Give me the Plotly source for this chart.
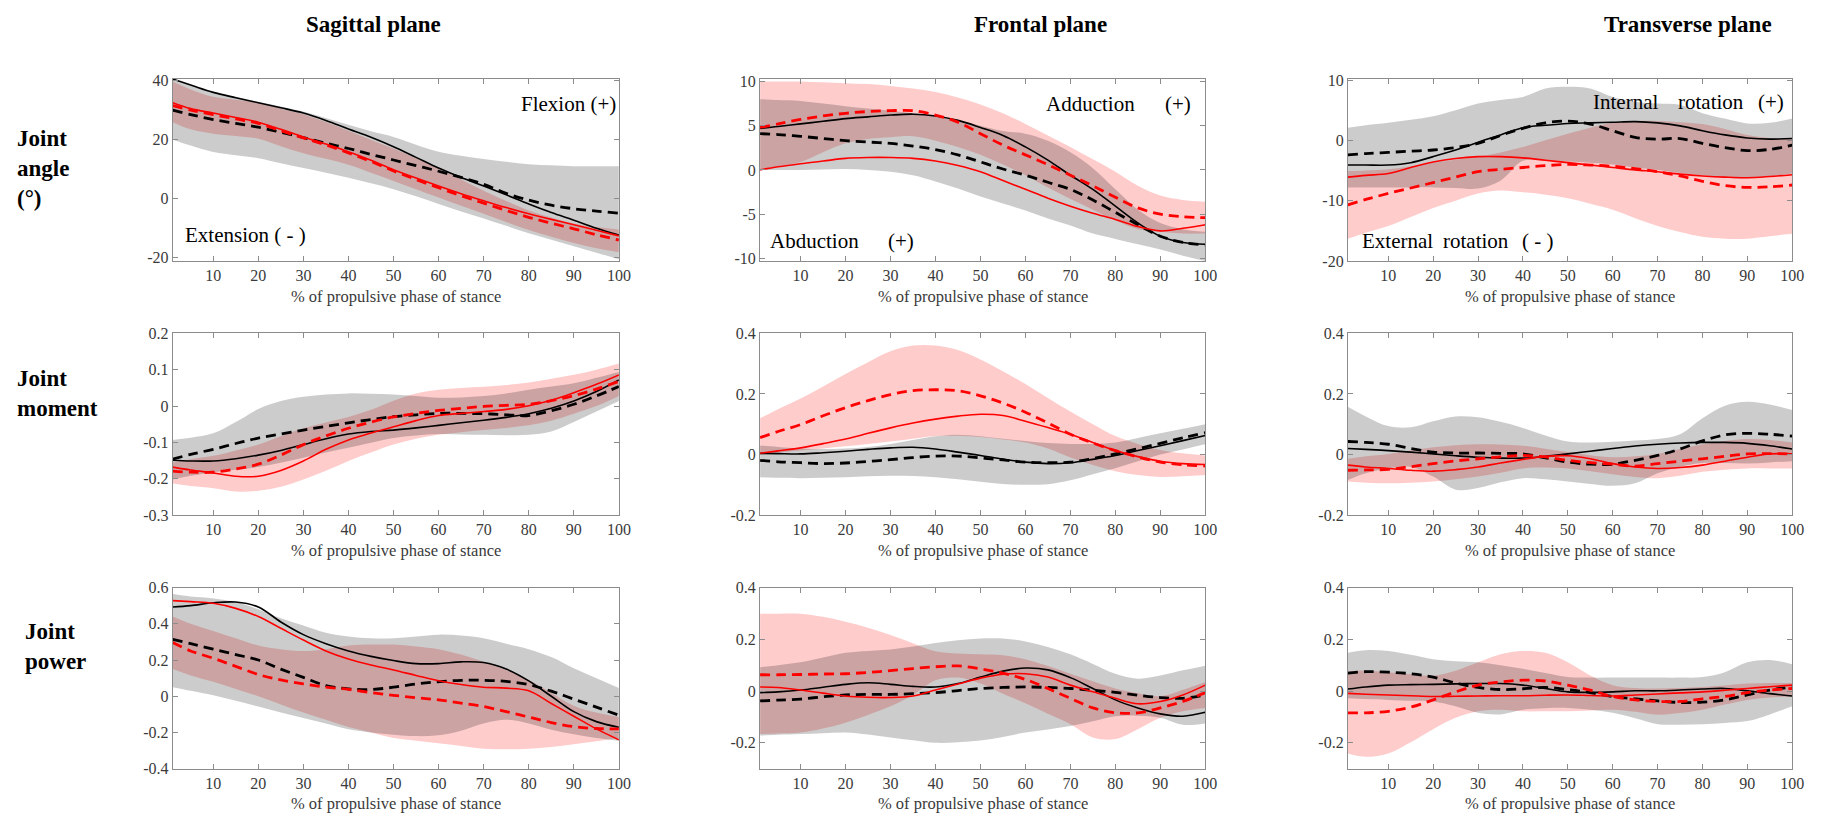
import plotly.graph_objects as go

# Percent of the propulsive phase of stance at which each curve is sampled
x_pct = [1, 5, 10, 15, 20, 25, 30, 35, 40, 45, 50, 55, 60, 65, 70, 75, 80, 85, 90, 95, 100]

# ---------------- Joint angle, sagittal plane ----------------
sag_ang_k = [40.5, 38.5, 36.0, 34.2, 32.5, 30.8, 29.0, 26.5, 23.6, 20.8, 17.6, 14.0, 10.4, 7.2, 4.3, 1.3, -1.8, -4.7, -7.3, -10.0, -12.3]
sag_ang_kd = [30.0, 28.5, 26.8, 25.5, 24.2, 22.5, 20.7, 18.8, 17.0, 15.0, 13.1, 11.2, 9.3, 7.2, 4.9, 1.8, -0.5, -2.2, -3.4, -4.2, -4.9]
sag_ang_r = [32.5, 30.5, 29.0, 27.5, 25.9, 23.5, 20.9, 18.5, 15.9, 13.0, 9.8, 7.0, 4.3, 1.7, -0.7, -3.0, -5.1, -7.0, -8.8, -10.7, -12.6]
sag_ang_rd = [31.5, 30.0, 28.5, 27.0, 25.5, 23.0, 20.6, 18.2, 15.5, 12.6, 9.4, 6.5, 3.7, 1.0, -1.5, -4.0, -6.3, -8.3, -10.2, -12.2, -14.0]
sag_ang_k_hi = [40.5, 38.5, 36.2, 34.5, 32.8, 31.2, 29.5, 27.3, 25.0, 22.8, 20.9, 18.3, 15.9, 14.5, 13.4, 12.5, 11.7, 11.3, 11.0, 11.0, 11.0]
sag_ang_k_lo = [20.0, 18.0, 15.8, 14.7, 13.7, 12.0, 10.4, 8.8, 7.1, 5.2, 3.2, 0.8, -1.8, -4.3, -6.7, -9.2, -11.7, -13.9, -16.1, -18.3, -20.5]
sag_ang_r_hi = [39.7, 37.0, 34.5, 33.5, 32.5, 30.5, 28.6, 26.0, 23.0, 20.0, 17.0, 13.7, 10.4, 6.5, 2.7, -0.8, -4.0, -6.4, -8.4, -9.6, -10.4]
sag_ang_r_lo = [25.9, 23.5, 22.0, 21.2, 20.3, 17.8, 15.4, 13.5, 11.5, 8.8, 6.0, 3.2, 0.4, -2.4, -5.1, -7.9, -10.6, -12.9, -15.0, -16.8, -18.1]

# ---------------- Joint angle, frontal plane ----------------
fro_ang_k = [4.7, 4.9, 5.2, 5.5, 5.8, 6.0, 6.2, 6.3, 6.1, 5.6, 4.8, 3.9, 2.6, 1.1, -0.6, -2.2, -4.1, -6.0, -7.5, -8.2, -8.4]
fro_ang_kd = [4.1, 4.0, 3.8, 3.55, 3.3, 3.15, 3.0, 2.7, 2.3, 1.7, 0.9, 0.1, -0.6, -1.4, -2.2, -3.4, -4.8, -6.2, -7.5, -8.2, -8.5]
fro_ang_r = [0.0, 0.35, 0.7, 1.0, 1.3, 1.4, 1.4, 1.3, 1.0, 0.5, -0.2, -1.2, -2.2, -3.2, -4.1, -4.9, -5.6, -6.4, -6.9, -6.6, -6.2]
fro_ang_rd = [4.8, 5.2, 5.7, 6.1, 6.4, 6.6, 6.7, 6.7, 6.2, 5.4, 4.1, 2.8, 1.7, 0.6, -0.6, -1.8, -3.1, -4.3, -5.0, -5.3, -5.4]
fro_ang_k_hi = [8.0, 7.9, 7.8, 7.5, 7.2, 6.95, 6.7, 6.4, 6.1, 5.6, 5.0, 4.4, 4.1, 3.3, 2.0, 0.2, -2.2, -4.5, -6.0, -6.7, -7.0]
fro_ang_k_lo = [0.0, 0.0, 0.0, 0.05, 0.1, 0.0, -0.2, -0.6, -1.3, -2.1, -3.0, -3.8, -4.6, -5.5, -6.3, -7.2, -7.8, -8.4, -9.0, -9.7, -10.3]
fro_ang_r_hi = [10.0, 10.0, 10.0, 9.9, 9.8, 9.7, 9.5, 9.2, 8.8, 8.2, 7.4, 6.4, 5.2, 3.9, 2.6, 1.2, -0.2, -1.8, -2.9, -3.4, -3.6]
fro_ang_r_lo = [0.0, 0.4, 0.9, 2.0, 3.0, 3.5, 3.7, 3.8, 3.3, 2.6, 1.7, 0.6, -0.6, -2.0, -3.3, -4.5, -5.7, -6.7, -7.0, -7.2, -7.2]

# ---------------- Joint angle, transverse plane ----------------
tra_ang_k = [-4.1, -4.1, -4.1, -3.7, -2.7, -1.6, -0.3, 0.9, 2.1, 2.5, 2.8, 2.9, 3.0, 3.1, 2.9, 2.4, 1.6, 0.9, 0.4, 0.2, 0.3]
tra_ang_kd = [-2.4, -2.2, -2.0, -1.8, -1.6, -1.2, -0.5, 0.8, 2.0, 2.9, 3.2, 2.7, 1.6, 0.5, 0.2, 0.3, -0.5, -1.2, -1.7, -1.5, -0.8]
tra_ang_r = [-6.1, -5.8, -5.5, -4.5, -3.6, -3.0, -2.7, -2.7, -2.9, -3.3, -3.7, -4.1, -4.5, -4.9, -5.2, -5.6, -5.9, -6.1, -6.2, -6.0, -5.7]
tra_ang_rd = [-10.7, -9.8, -8.8, -7.9, -7.0, -6.1, -5.2, -4.8, -4.5, -4.2, -4.0, -4.1, -4.3, -4.7, -5.2, -5.9, -6.8, -7.5, -7.8, -7.7, -7.4]
tra_ang_k_hi = [2.1, 2.5, 2.9, 3.4, 4.0, 5.0, 6.1, 6.7, 7.2, 8.6, 8.9, 8.6, 7.2, 6.4, 6.1, 5.9, 4.5, 3.6, 2.8, 2.9, 3.6]
tra_ang_k_lo = [-7.8, -7.8, -7.8, -7.8, -7.8, -7.9, -8.0, -6.7, -3.4, -3.3, -3.5, -3.7, -4.0, -4.5, -4.9, -5.4, -5.8, -6.2, -6.3, -6.0, -5.5]
tra_ang_r_hi = [-5.1, -5.0, -4.8, -4.3, -3.7, -3.2, -2.7, -2.0, -1.1, 0.0, 1.1, 2.1, 2.9, 3.2, 3.2, 3.0, 2.7, 1.9, 0.9, 0.4, 0.2]
tra_ang_r_lo = [-16.3, -15.3, -14.2, -12.7, -11.2, -10.0, -8.8, -8.3, -8.6, -9.0, -9.6, -10.5, -11.5, -12.9, -14.2, -15.2, -16.0, -16.3, -16.3, -15.9, -15.5]

# ---------------- Joint moment, sagittal plane ----------------
sag_mom_k = [-0.149, -0.151, -0.151, -0.145, -0.135, -0.122, -0.106, -0.090, -0.077, -0.070, -0.066, -0.060, -0.053, -0.046, -0.039, -0.031, -0.021, -0.006, 0.014, 0.040, 0.072]
sag_mom_kd = [-0.146, -0.133, -0.119, -0.103, -0.088, -0.077, -0.066, -0.056, -0.046, -0.037, -0.029, -0.024, -0.020, -0.020, -0.021, -0.024, -0.026, -0.013, 0.005, 0.028, 0.054]
sag_mom_r = [-0.168, -0.176, -0.184, -0.193, -0.193, -0.177, -0.151, -0.119, -0.093, -0.074, -0.057, -0.040, -0.026, -0.020, -0.015, -0.009, 0.001, 0.016, 0.037, 0.060, 0.086]
sag_mom_rd = [-0.179, -0.182, -0.182, -0.173, -0.160, -0.135, -0.106, -0.082, -0.061, -0.044, -0.030, -0.020, -0.012, -0.006, -0.001, 0.002, 0.005, 0.015, 0.029, 0.047, 0.068]
sag_mom_k_hi = [-0.093, -0.087, -0.075, -0.044, -0.008, 0.014, 0.026, 0.032, 0.035, 0.034, 0.032, 0.028, 0.023, 0.024, 0.028, 0.035, 0.045, 0.054, 0.063, 0.078, 0.094]
sag_mom_k_lo = [-0.202, -0.192, -0.182, -0.175, -0.168, -0.156, -0.142, -0.128, -0.115, -0.101, -0.088, -0.081, -0.077, -0.078, -0.079, -0.080, -0.079, -0.070, -0.044, -0.015, 0.014]
sag_mom_r_hi = [-0.155, -0.146, -0.137, -0.122, -0.106, -0.083, -0.061, -0.045, -0.030, -0.010, 0.015, 0.035, 0.045, 0.050, 0.053, 0.058, 0.065, 0.075, 0.086, 0.100, 0.117]
sag_mom_r_lo = [-0.213, -0.220, -0.226, -0.235, -0.233, -0.222, -0.202, -0.178, -0.151, -0.128, -0.106, -0.090, -0.079, -0.072, -0.066, -0.060, -0.053, -0.040, -0.021, 0.000, 0.028]

# ---------------- Joint moment, frontal plane ----------------
fro_mom_k = [0.004, 0.003, 0.002, 0.006, 0.011, 0.017, 0.022, 0.024, 0.018, 0.008, -0.003, -0.015, -0.025, -0.030, -0.027, -0.016, -0.003, 0.013, 0.029, 0.046, 0.063]
fro_mom_kd = [-0.019, -0.024, -0.027, -0.030, -0.028, -0.023, -0.017, -0.010, -0.005, -0.005, -0.011, -0.018, -0.025, -0.027, -0.025, -0.013, 0.002, 0.019, 0.037, 0.055, 0.072]
fro_mom_r = [0.004, 0.012, 0.022, 0.036, 0.051, 0.070, 0.088, 0.104, 0.117, 0.127, 0.133, 0.129, 0.110, 0.089, 0.067, 0.040, 0.013, -0.007, -0.022, -0.030, -0.033]
fro_mom_rd = [0.056, 0.076, 0.099, 0.128, 0.155, 0.178, 0.198, 0.211, 0.214, 0.211, 0.194, 0.170, 0.140, 0.104, 0.067, 0.038, 0.013, -0.008, -0.025, -0.034, -0.038]
fro_mom_k_hi = [0.030, 0.025, 0.020, 0.018, 0.020, 0.025, 0.035, 0.048, 0.060, 0.065, 0.060, 0.052, 0.045, 0.038, 0.035, 0.035, 0.040, 0.055, 0.070, 0.085, 0.100]
fro_mom_k_lo = [-0.075, -0.077, -0.078, -0.077, -0.075, -0.072, -0.070, -0.071, -0.075, -0.082, -0.090, -0.097, -0.100, -0.098, -0.085, -0.065, -0.045, -0.022, 0.000, 0.017, 0.034]
fro_mom_r_hi = [0.120, 0.150, 0.185, 0.225, 0.266, 0.305, 0.341, 0.360, 0.360, 0.345, 0.314, 0.275, 0.233, 0.187, 0.142, 0.100, 0.061, 0.035, 0.015, 0.004, -0.003]
fro_mom_r_lo = [0.002, 0.007, 0.013, 0.020, 0.027, 0.035, 0.043, 0.052, 0.061, 0.062, 0.058, 0.050, 0.040, 0.020, -0.010, -0.035, -0.055, -0.068, -0.074, -0.072, -0.068]

# ---------------- Joint moment, transverse plane ----------------
tra_mom_k = [0.020, 0.017, 0.013, 0.008, 0.002, -0.004, -0.009, -0.012, -0.012, -0.006, 0.002, 0.011, 0.020, 0.028, 0.034, 0.038, 0.040, 0.040, 0.037, 0.029, 0.018]
tra_mom_kd = [0.043, 0.040, 0.034, 0.020, 0.008, 0.005, 0.005, 0.004, 0.002, -0.011, -0.025, -0.032, -0.032, -0.019, -0.003, 0.018, 0.045, 0.065, 0.070, 0.067, 0.061]
tra_mom_r = [-0.035, -0.041, -0.046, -0.052, -0.055, -0.050, -0.041, -0.028, -0.016, -0.006, -0.004, -0.014, -0.030, -0.041, -0.046, -0.043, -0.035, -0.022, -0.009, 0.002, 0.002]
tra_mom_rd = [-0.052, -0.051, -0.049, -0.040, -0.030, -0.021, -0.014, -0.008, -0.003, -0.008, -0.019, -0.027, -0.032, -0.038, -0.030, -0.022, -0.014, -0.006, 0.002, 0.003, 0.002]
tra_mom_k_hi = [0.158, 0.126, 0.094, 0.090, 0.110, 0.126, 0.123, 0.108, 0.088, 0.063, 0.043, 0.040, 0.042, 0.046, 0.051, 0.067, 0.120, 0.161, 0.174, 0.165, 0.147]
tra_mom_k_lo = [-0.084, -0.062, -0.046, -0.041, -0.073, -0.116, -0.111, -0.092, -0.078, -0.082, -0.089, -0.097, -0.103, -0.095, -0.062, -0.040, -0.028, -0.028, -0.030, -0.026, -0.022]
tra_mom_r_hi = [-0.014, -0.006, 0.002, 0.013, 0.024, 0.031, 0.034, 0.033, 0.029, 0.019, 0.008, -0.002, -0.009, -0.006, 0.002, 0.018, 0.034, 0.045, 0.051, 0.048, 0.040]
tra_mom_r_lo = [-0.089, -0.093, -0.095, -0.093, -0.089, -0.082, -0.073, -0.060, -0.046, -0.043, -0.046, -0.055, -0.065, -0.074, -0.078, -0.070, -0.057, -0.050, -0.046, -0.046, -0.046]

# ---------------- Joint power, sagittal plane ----------------
sag_pow_k = [0.493, 0.500, 0.516, 0.520, 0.493, 0.410, 0.340, 0.290, 0.250, 0.220, 0.197, 0.180, 0.180, 0.190, 0.186, 0.150, 0.085, 0.000, -0.085, -0.140, -0.171]
sag_pow_kd = [0.314, 0.290, 0.260, 0.230, 0.200, 0.150, 0.104, 0.059, 0.041, 0.037, 0.050, 0.068, 0.080, 0.088, 0.088, 0.082, 0.064, 0.028, -0.016, -0.060, -0.105]
sag_pow_r = [0.528, 0.522, 0.513, 0.485, 0.440, 0.375, 0.310, 0.250, 0.205, 0.172, 0.145, 0.115, 0.086, 0.065, 0.050, 0.045, 0.030, -0.040, -0.110, -0.180, -0.240]
sag_pow_rd = [0.296, 0.250, 0.210, 0.165, 0.120, 0.090, 0.068, 0.050, 0.038, 0.020, 0.005, -0.008, -0.020, -0.038, -0.057, -0.085, -0.115, -0.145, -0.168, -0.178, -0.180]
sag_pow_k_hi = [0.564, 0.550, 0.540, 0.520, 0.480, 0.430, 0.390, 0.350, 0.330, 0.320, 0.320, 0.330, 0.340, 0.335, 0.320, 0.290, 0.260, 0.216, 0.154, 0.100, 0.046]
sag_pow_k_lo = [0.050, 0.030, 0.005, -0.025, -0.057, -0.090, -0.120, -0.150, -0.182, -0.200, -0.212, -0.220, -0.215, -0.190, -0.150, -0.130, -0.150, -0.185, -0.210, -0.230, -0.245]
sag_pow_r_hi = [0.440, 0.400, 0.360, 0.320, 0.280, 0.260, 0.250, 0.260, 0.280, 0.285, 0.285, 0.275, 0.260, 0.230, 0.190, 0.145, 0.090, 0.020, -0.052, -0.090, -0.114]
sag_pow_r_lo = [0.150, 0.115, 0.080, 0.040, 0.000, -0.045, -0.090, -0.130, -0.170, -0.200, -0.230, -0.245, -0.260, -0.275, -0.290, -0.293, -0.290, -0.280, -0.265, -0.248, -0.230]

# ---------------- Joint power, frontal plane ----------------
fro_pow_k = [-0.006, -0.003, 0.004, 0.015, 0.026, 0.032, 0.026, 0.018, 0.016, 0.029, 0.054, 0.077, 0.089, 0.082, 0.052, 0.010, -0.034, -0.065, -0.088, -0.097, -0.082]
fro_pow_kd = [-0.038, -0.035, -0.031, -0.022, -0.015, -0.013, -0.013, -0.010, -0.006, 0.002, 0.010, 0.014, 0.016, 0.014, 0.010, 0.003, -0.005, -0.016, -0.025, -0.028, -0.015]
fro_pow_r = [0.016, 0.014, 0.004, -0.008, -0.019, -0.024, -0.025, -0.019, 0.004, 0.027, 0.050, 0.065, 0.067, 0.054, 0.023, -0.003, -0.028, -0.049, -0.040, -0.015, 0.023]
fro_pow_rd = [0.063, 0.063, 0.064, 0.066, 0.067, 0.072, 0.079, 0.087, 0.094, 0.097, 0.086, 0.069, 0.045, 0.010, -0.028, -0.065, -0.084, -0.084, -0.065, -0.040, -0.006]
fro_pow_k_hi = [0.092, 0.100, 0.111, 0.130, 0.148, 0.155, 0.161, 0.172, 0.186, 0.196, 0.203, 0.203, 0.192, 0.170, 0.142, 0.105, 0.067, 0.048, 0.060, 0.080, 0.098]
fro_pow_k_lo = [-0.172, -0.169, -0.166, -0.163, -0.160, -0.168, -0.179, -0.190, -0.200, -0.198, -0.191, -0.177, -0.160, -0.148, -0.135, -0.117, -0.097, -0.095, -0.103, -0.130, -0.125]
fro_pow_r_hi = [0.299, 0.299, 0.299, 0.287, 0.268, 0.245, 0.217, 0.185, 0.154, 0.145, 0.142, 0.138, 0.123, 0.097, 0.067, 0.038, 0.010, -0.008, -0.020, 0.005, 0.035]
fro_pow_r_lo = [-0.166, -0.164, -0.160, -0.145, -0.122, -0.092, -0.059, -0.015, 0.042, 0.052, 0.029, -0.010, -0.047, -0.088, -0.128, -0.179, -0.185, -0.147, -0.103, -0.078, -0.065]

# ---------------- Joint power, transverse plane ----------------
tra_pow_k = [0.008, 0.016, 0.023, 0.025, 0.026, 0.028, 0.029, 0.029, 0.023, 0.010, -0.003, -0.005, -0.003, 0.001, 0.001, 0.004, 0.008, 0.010, 0.001, -0.010, -0.019]
tra_pow_kd = [0.069, 0.075, 0.073, 0.067, 0.054, 0.031, 0.014, 0.006, 0.009, 0.014, 0.006, -0.006, -0.021, -0.030, -0.038, -0.044, -0.043, -0.034, -0.015, 0.004, 0.016]
tra_pow_r = [-0.009, -0.012, -0.015, -0.018, -0.021, -0.020, -0.019, -0.018, -0.018, -0.016, -0.015, -0.017, -0.019, -0.015, -0.011, -0.007, -0.003, 0.003, 0.010, 0.017, 0.023]
tra_pow_rd = [-0.084, -0.084, -0.078, -0.062, -0.034, -0.003, 0.023, 0.035, 0.042, 0.039, 0.023, 0.004, -0.021, -0.034, -0.040, -0.040, -0.030, -0.021, -0.006, 0.004, 0.010]
tra_pow_k_hi = [0.148, 0.158, 0.155, 0.140, 0.123, 0.115, 0.111, 0.100, 0.086, 0.070, 0.054, 0.052, 0.052, 0.052, 0.052, 0.052, 0.054, 0.073, 0.111, 0.120, 0.104]
tra_pow_k_lo = [-0.028, -0.031, -0.034, -0.037, -0.040, -0.059, -0.084, -0.090, -0.072, -0.066, -0.065, -0.072, -0.084, -0.105, -0.128, -0.130, -0.128, -0.123, -0.116, -0.090, -0.059]
tra_pow_r_hi = [0.077, 0.079, 0.073, 0.065, 0.060, 0.079, 0.111, 0.142, 0.155, 0.148, 0.111, 0.060, 0.023, 0.012, 0.010, 0.012, 0.016, 0.022, 0.029, 0.031, 0.031]
tra_pow_r_lo = [-0.241, -0.254, -0.241, -0.198, -0.147, -0.103, -0.078, -0.072, -0.078, -0.078, -0.078, -0.075, -0.072, -0.080, -0.091, -0.085, -0.072, -0.052, -0.034, -0.025, -0.021]

# Tick values and headings
xticks = [10, 20, 30, 40, 50, 60, 70, 80, 90, 100]
col_titles = ["Sagittal plane", "Frontal plane", "Transverse plane"]
row_titles = ["Joint<br>angle<br>(°)", "Joint<br>moment", "Joint<br>power"]
x_title = "% of propulsive phase of stance"

panels = [
    # (series, y range, y ticks)
    ((sag_ang_k, sag_ang_kd, sag_ang_r, sag_ang_rd, sag_ang_k_hi, sag_ang_k_lo, sag_ang_r_hi, sag_ang_r_lo), [-21.1, 40.6], [-20, 0, 20, 40]),
    ((fro_ang_k, fro_ang_kd, fro_ang_r, fro_ang_rd, fro_ang_k_hi, fro_ang_k_lo, fro_ang_r_hi, fro_ang_r_lo), [-10.3, 10.3], [-10, -5, 0, 5, 10]),
    ((tra_ang_k, tra_ang_kd, tra_ang_r, tra_ang_rd, tra_ang_k_hi, tra_ang_k_lo, tra_ang_r_hi, tra_ang_r_lo), [-20, 10.2], [-20, -10, 0, 10]),
    ((sag_mom_k, sag_mom_kd, sag_mom_r, sag_mom_rd, sag_mom_k_hi, sag_mom_k_lo, sag_mom_r_hi, sag_mom_r_lo), [-0.3, 0.2], [-0.3, -0.2, -0.1, 0, 0.1, 0.2]),
    ((fro_mom_k, fro_mom_kd, fro_mom_r, fro_mom_rd, fro_mom_k_hi, fro_mom_k_lo, fro_mom_r_hi, fro_mom_r_lo), [-0.2, 0.4], [-0.2, 0, 0.2, 0.4]),
    ((tra_mom_k, tra_mom_kd, tra_mom_r, tra_mom_rd, tra_mom_k_hi, tra_mom_k_lo, tra_mom_r_hi, tra_mom_r_lo), [-0.2, 0.4], [-0.2, 0, 0.2, 0.4]),
    ((sag_pow_k, sag_pow_kd, sag_pow_r, sag_pow_rd, sag_pow_k_hi, sag_pow_k_lo, sag_pow_r_hi, sag_pow_r_lo), [-0.4, 0.6], [-0.4, -0.2, 0, 0.2, 0.4, 0.6]),
    ((fro_pow_k, fro_pow_kd, fro_pow_r, fro_pow_rd, fro_pow_k_hi, fro_pow_k_lo, fro_pow_r_hi, fro_pow_r_lo), [-0.3, 0.4], [-0.2, 0, 0.2, 0.4]),
    ((tra_pow_k, tra_pow_kd, tra_pow_r, tra_pow_rd, tra_pow_k_hi, tra_pow_k_lo, tra_pow_r_hi, tra_pow_r_lo), [-0.3, 0.4], [-0.2, 0, 0.2, 0.4]),
]

W, H = 1825, 827
col_px = [(173.8, 623.0), (765.1, 1213.3), (1356.8, 1804.1)]
row_px = [(72.3, 258.3), (332.3, 517.7), (591.7, 776.7)]

SERIF = "Liberation Serif, Times New Roman, serif"
FRAME = "#8c8c8c"
TXT = "#3a3a3a"

GRAY_FILL = "rgba(0,0,0,0.2)"
PINK_FILL = "rgba(255,0,0,0.2)"
RED = "#ff0000"
DASH = "10px,6px"


def tick_text(v):
    return "0" if v == 0 else ("%g" % v)


fig = go.Figure()
layout = dict(
    width=W, height=H, margin=dict(l=0, r=0, t=0, b=0),
    paper_bgcolor="white", plot_bgcolor="white", showlegend=False,
    font=dict(family=SERIF, color=TXT),
)
annotations = []

for i, (series, yrange, yticks) in enumerate(panels):
    r, c = divmod(i, 3)
    n = "" if i == 0 else str(i + 1)
    xa, ya = "x" + n, "y" + n
    k, kd, rs, rd, k_hi, k_lo, r_hi, r_lo = series

    def band(hi, lo, color):
        fig.add_trace(go.Scatter(x=x_pct, y=hi, mode="lines", xaxis=xa, yaxis=ya,
                                 line=dict(width=0, shape="spline", smoothing=1, color=color),
                                 hoverinfo="skip"))
        fig.add_trace(go.Scatter(x=x_pct, y=lo, mode="lines", xaxis=xa, yaxis=ya,
                                 line=dict(width=0, shape="spline", smoothing=1, color=color),
                                 fill="tonexty", fillcolor=color, hoverinfo="skip"))

    band(r_hi, r_lo, PINK_FILL)
    band(k_hi, k_lo, GRAY_FILL)

    def curve(y, color, width, dash):
        fig.add_trace(go.Scatter(x=x_pct, y=y, mode="lines", xaxis=xa, yaxis=ya,
                                 line=dict(color=color, width=width, dash=dash,
                                           shape="spline", smoothing=1)))

    curve(k, "black", 1.6, "solid")
    curve(kd, "black", 2.8, DASH)
    curve(rs, RED, 1.6, "solid")
    curve(rd, RED, 2.8, DASH)

    x0, x1 = col_px[c]
    y0, y1 = row_px[r]
    common = dict(showgrid=False, zeroline=False, showline=True, linecolor=FRAME, linewidth=1,
                  mirror="ticks", ticks="inside", ticklen=5, tickcolor=FRAME,
                  tickfont=dict(family=SERIF, size=16, color=TXT))
    layout["xaxis" + n] = dict(common, domain=[x0 / W, x1 / W], range=[1, 100], anchor=ya,
                               tickvals=xticks, ticktext=[str(t) for t in xticks])
    layout["yaxis" + n] = dict(common, domain=[1 - y1 / H, 1 - y0 / H], range=yrange, anchor=xa,
                               tickvals=yticks, ticktext=[tick_text(t) for t in yticks])

    # x-axis title
    annotations.append(dict(text=x_title, x=(x0 + x1) / 2 / W, y=1 - (y1 + 36) / H,
                            xref="paper", yref="paper", xanchor="center", yanchor="middle",
                            showarrow=False, font=dict(family=SERIF, size=16.5, color=TXT)))

# Column headings
for t, xc in zip(col_titles, [376, 1047, 1699]):
    annotations.append(dict(text="<b>%s</b>" % t, x=xc / W, y=1 - 17 / H, xref="paper", yref="paper",
                            xanchor="center", yanchor="middle", showarrow=False,
                            font=dict(family=SERIF, size=23, color="black")))

# Row headings
for t, (xl, yc) in zip(row_titles, [(15, 164), (15, 394), (23, 652)]):
    annotations.append(dict(text="<b>%s</b>" % t, x=xl / W, y=1 - yc / H, xref="paper", yref="paper",
                            xanchor="left", yanchor="middle", align="left", showarrow=False,
                            font=dict(family=SERIF, size=23, color="black")))

# Direction labels inside the angle panels
direction_labels = [
    ("Flexion (+)", 622, 98, "right"),
    ("Extension ( - )", 184, 232, "left"),
    ("Adduction", 1051, 98, "left"),
    ("(+)", 1201, 98, "right"),
    ("Abduction", 773, 238, "left"),
    ("(+)", 922, 238, "right"),
    ("Internal", 1602, 96, "left"),
    ("rotation", 1687, 96, "left"),
    ("(+)", 1798, 96, "right"),
    ("External", 1369, 238, "left"),
    ("rotation", 1451, 238, "left"),
    ("( - )", 1565, 238, "right"),
]
for t, xp, yp, anc in direction_labels:
    annotations.append(dict(text=t, x=xp / W, y=1 - yp / H, xref="paper", yref="paper",
                            xanchor=anc, yanchor="middle", showarrow=False,
                            font=dict(family=SERIF, size=21, color="black")))

layout["annotations"] = annotations
fig.update_layout(**layout)
fig.write_html("out.html")
